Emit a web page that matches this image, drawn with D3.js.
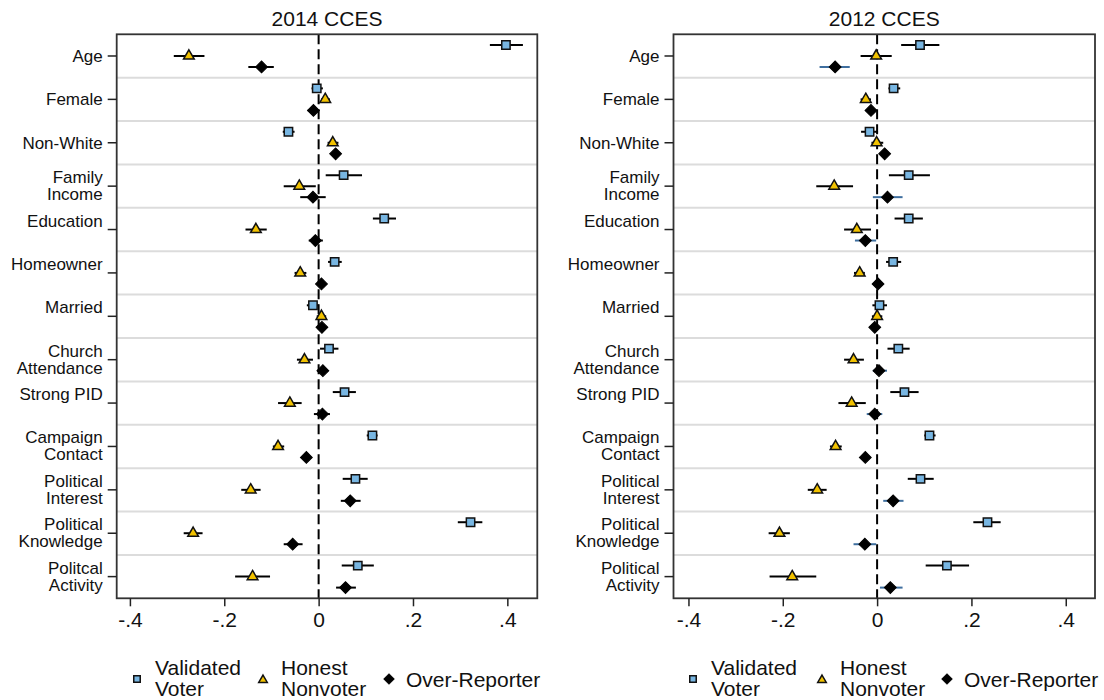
<!DOCTYPE html>
<html>
<head>
<meta charset="utf-8">
<script src="https://cdn.jsdelivr.net/npm/d3@7"></script>
<style>
  html, body { margin: 0; padding: 0; background: #fff; }
  svg { display: block; font-family: "Liberation Sans", Arial, Helvetica, sans-serif; }
</style>
</head>
<body>
<svg id="chart" width="1104" height="700"></svg>
<script>
// Covariate rows, top to bottom
const categories = ["Age", "Female", "Non-White", "Family Income", "Education", "Homeowner",
  "Married", "Church Attendance", "Strong PID", "Campaign Contact", "Political Interest",
  "Political Knowledge", "Political Activity"];

// Row labels (line by line) for each panel
const labels2014 = [["Age"], ["Female"], ["Non-White"], ["Family", "Income"], ["Education", ""],
  ["Homeowner", ""], ["Married", ""], ["Church", "Attendance"], ["Strong PID", ""],
  ["Campaign", "Contact"], ["Political", "Interest"], ["Political", "Knowledge"], ["Politcal", "Activity"]];
const labels2012 = [["Age"], ["Female"], ["Non-White"], ["Family", "Income"], ["Education", ""],
  ["Homeowner", ""], ["Married", ""], ["Church", "Attendance"], ["Strong PID", ""],
  ["Campaign", "Contact"], ["Political", "Interest"], ["Political", "Knowledge"], ["Political", "Activity"]];

const groups = ["Validated Voter", "Honest Nonvoter", "Over-Reporter"];
const tickValues = [-0.4, -0.2, 0, 0.2, 0.4];
const tickLabels = ["-.4", "-.2", "0", ".2", ".4"];

// 2014 CCES: estimate, lower, upper
const validated2014 = [[0.397, 0.363, 0.433], [-0.004, -0.015, 0.009], [-0.064, -0.076, -0.051],
  [0.053, 0.015, 0.092], [0.139, 0.115, 0.164], [0.034, 0.020, 0.049], [-0.012, -0.025, 0.000],
  [0.022, 0.003, 0.042], [0.055, 0.030, 0.079], [0.114, 0.102, 0.125], [0.078, 0.051, 0.104],
  [0.322, 0.295, 0.347], [0.083, 0.049, 0.117]];
const honest2014 = [[-0.275, -0.307, -0.242], [0.014, 0.005, 0.024], [0.030, 0.019, 0.042],
  [-0.041, -0.074, -0.006], [-0.133, -0.155, -0.110], [-0.039, -0.051, -0.026], [0.006, -0.004, 0.016],
  [-0.030, -0.046, -0.012], [-0.061, -0.086, -0.036], [-0.086, -0.097, -0.073], [-0.144, -0.164, -0.123],
  [-0.266, -0.286, -0.246], [-0.140, -0.177, -0.103]];
const over2014 = [[-0.121, -0.149, -0.095], [-0.011, -0.023, 0.000], [0.036, 0.028, 0.044],
  [-0.012, -0.039, 0.015], [-0.007, -0.021, 0.009], [0.006, -0.004, 0.016], [0.007, -0.003, 0.016],
  [0.009, -0.002, 0.020], [0.008, -0.010, 0.024], [-0.026, -0.036, -0.016], [0.067, 0.047, 0.089],
  [-0.055, -0.074, -0.034], [0.057, 0.037, 0.079]];

// 2012 CCES: estimate, lower, upper
const validated2012 = [[0.091, 0.051, 0.132], [0.035, 0.024, 0.049], [-0.016, -0.034, 0.002],
  [0.067, 0.025, 0.112], [0.067, 0.037, 0.097], [0.034, 0.019, 0.051], [0.005, -0.010, 0.021],
  [0.045, 0.022, 0.069], [0.058, 0.028, 0.088], [0.111, 0.100, 0.124], [0.092, 0.065, 0.120],
  [0.234, 0.204, 0.262], [0.148, 0.103, 0.195]];
const honest2012 = [[-0.002, -0.035, 0.031], [-0.024, -0.035, -0.013], [-0.001, -0.012, 0.013],
  [-0.091, -0.129, -0.051], [-0.043, -0.070, -0.013], [-0.037, -0.049, -0.026], [0.000, -0.011, 0.011],
  [-0.050, -0.070, -0.028], [-0.054, -0.082, -0.024], [-0.088, -0.100, -0.075], [-0.127, -0.147, -0.107],
  [-0.207, -0.230, -0.185], [-0.180, -0.228, -0.129]];
const over2012 = [[-0.089, -0.122, -0.058], [-0.013, -0.024, -0.002], [0.016, 0.008, 0.025],
  [0.022, -0.009, 0.054], [-0.025, -0.047, -0.002], [0.002, -0.008, 0.013], [-0.005, -0.015, 0.005],
  [0.004, -0.009, 0.021], [-0.005, -0.022, 0.011], [-0.025, -0.034, -0.015], [0.034, 0.013, 0.056],
  [-0.026, -0.050, -0.002], [0.028, 0.006, 0.054]];

const svg = d3.select("#chart");

const squareFill = "#78b6e2";
const triFill = "#f2c200";

function marker(g, kind, size) {
  if (kind === 0) {
    return g.append("path").attr("d", d3.symbol(d3.symbolSquare, size)())
      .attr("fill", squareFill).attr("stroke", "#111").attr("stroke-width", 1.5);
  } else if (kind === 1) {
    return g.append("path").attr("d", d3.symbol(d3.symbolTriangle, size * 0.8)())
      .attr("fill", triFill).attr("stroke", "#111").attr("stroke-width", 1.5);
  }
  return g.append("path").attr("d", d3.symbol(d3.symbolSquare, size)())
    .attr("fill", "#000").attr("stroke", "#000").attr("stroke-width", 1)
    .attr("transform", "rotate(45)");
}

function drawPanel(opts) {
  const { left, right, top, bottom, domain, title, labels, series, overWhisker } = opts;
  const x = d3.scaleLinear().domain(domain).range([left, right]);
  const y = d3.scaleBand().domain(categories).range([top, bottom]).padding(0);
  const g = svg.append("g");

  // title
  g.append("text").attr("x", (left + right) / 2).attr("y", 26)
    .attr("text-anchor", "middle").attr("font-size", 21).attr("fill", "#111").text(title);

  // row separators
  g.selectAll("line.sep").data(categories.slice(1)).join("line")
    .attr("x1", left).attr("x2", right)
    .attr("y1", d => y(d)).attr("y2", d => y(d))
    .attr("stroke", "#dcdcdc").attr("stroke-width", 2);

  // zero reference line
  g.append("line").attr("x1", x(0)).attr("x2", x(0)).attr("y1", top).attr("y2", bottom)
    .attr("stroke", "#000").attr("stroke-width", 2).attr("stroke-dasharray", "10,5");

  // estimates with intervals
  const offsets = [-11, 0, 11];
  series.forEach((vals, k) => {
    const sg = g.append("g");
    vals.forEach((v, i) => {
      const cy = y(categories[i]) + y.bandwidth() / 2 + offsets[k];
      sg.append("line").attr("x1", x(v[1])).attr("x2", x(v[2])).attr("y1", cy).attr("y2", cy)
        .attr("stroke", k === 2 ? overWhisker : "#000").attr("stroke-width", 2);
      const mg = sg.append("g").attr("transform", `translate(${x(v[0])},${cy})`);
      marker(mg, k, k === 2 ? 70 : (k === 0 ? 70 : 62));
    });
  });

  // frame
  g.append("rect").attr("x", left).attr("y", top).attr("width", right - left).attr("height", bottom - top)
    .attr("fill", "none").attr("stroke", "#333").attr("stroke-width", 1.8);

  // x axis
  const xa = d3.axisBottom(x).tickValues(tickValues).tickSize(8).tickPadding(6)
    .tickFormat((d, i) => tickLabels[i]);
  const xg = g.append("g").attr("transform", `translate(0,${bottom})`).call(xa);
  xg.select(".domain").remove();
  xg.selectAll(".tick line").attr("stroke", "#222").attr("stroke-width", 1.5);
  xg.selectAll(".tick text").attr("font-size", 21).attr("fill", "#111")
    .attr("font-family", "'Liberation Sans', Arial, Helvetica, sans-serif");

  // y axis
  const ya = d3.axisLeft(y).tickSize(9).tickFormat("");
  const yg = g.append("g").attr("transform", `translate(${left},0)`).call(ya);
  yg.select(".domain").remove();
  yg.selectAll(".tick line").attr("stroke", "#222").attr("stroke-width", 1.5);

  categories.forEach((c, i) => {
    const cy = y(c) + y.bandwidth() / 2;
    const lines = labels[i];
    const t = g.append("text").attr("text-anchor", "end").attr("font-size", 17).attr("fill", "#111");
    if (lines.length === 1) {
      t.append("tspan").attr("x", left - 14).attr("y", cy + 6).text(lines[0]);
    } else {
      t.append("tspan").attr("x", left - 14).attr("y", cy - 3).text(lines[0]);
      if (lines[1]) t.append("tspan").attr("x", left - 14).attr("y", cy + 14).text(lines[1]);
    }
  });
}

function drawLegend(pos) {
  const g = svg.append("g");
  const fs = 21;
  // Validated Voter
  marker(g.append("g").attr("transform", `translate(${pos[0]},679)`), 0, 42);
  g.append("text").attr("font-size", fs).attr("fill", "#111")
    .selectAll("tspan").data(["Validated", "Voter"]).join("tspan")
    .attr("x", pos[0] + 18).attr("y", (d, i) => 675 + i * 21).text(d => d);
  // Honest Nonvoter
  marker(g.append("g").attr("transform", `translate(${pos[1]},680)`), 1, 40);
  g.append("text").attr("font-size", fs).attr("fill", "#111")
    .selectAll("tspan").data(["Honest", "Nonvoter"]).join("tspan")
    .attr("x", pos[1] + 18).attr("y", (d, i) => 675 + i * 21).text(d => d);
  // Over-Reporter
  marker(g.append("g").attr("transform", `translate(${pos[2]},679)`), 2, 52);
  g.append("text").attr("font-size", fs).attr("fill", "#111")
    .attr("x", pos[2] + 17).attr("y", 687).text("Over-Reporter");
}

drawPanel({
  left: 116.7, right: 537.3, top: 34.3, bottom: 598.3, domain: [-0.428, 0.4635],
  title: "2014 CCES", labels: labels2014,
  series: [validated2014, honest2014, over2014], overWhisker: "#000"
});
drawPanel({
  left: 673.5, right: 1095, top: 34.3, bottom: 598.3, domain: [-0.4317, 0.462],
  title: "2012 CCES", labels: labels2012,
  series: [validated2012, honest2012, over2012], overWhisker: "#3f6f9f"
});

drawLegend([137, 263, 389]);
drawLegend([693, 822, 947]);
</script>
</body>
</html>
